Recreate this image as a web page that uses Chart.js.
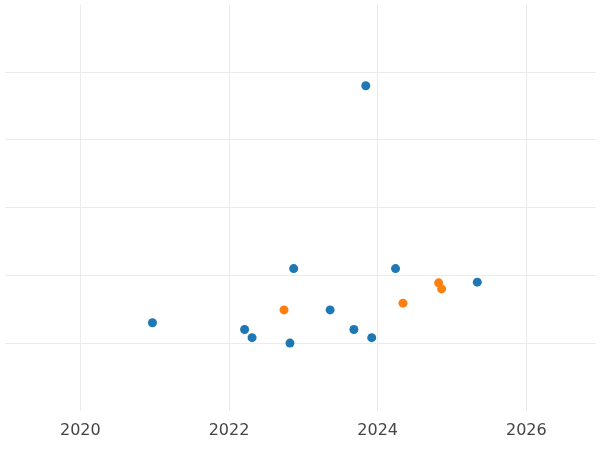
<!DOCTYPE html>
<html><head><meta charset="utf-8">
<script src="https://cdn.jsdelivr.net/npm/chart.js@4"></script>
<style>html,body{margin:0;padding:0;background:#fff}#w{width:600px;height:450px}</style>
</head><body><div id="w"><canvas id="c"></canvas></div>
<script>
const blueX=[2020.97,2022.21,2022.31,2022.82,2022.87,2023.36,2023.68,2023.84,2023.92,2024.24,2025.34];
const blueY=[1.30,1.20,1.08,1.00,2.10,1.49,1.20,4.80,1.08,2.10,1.90];
const orangeX=[2022.74,2024.34,2024.82,2024.86];
const orangeY=[1.49,1.59,1.89,1.80];
const xTicks=[2020,2022,2024,2026];
const yTicks=[1,2,3,4,5];
const pts=(xs,ys)=>xs.map((x,i)=>({x,y:ys[i]}));
new Chart(document.getElementById('c'),{
 type:'scatter',
 data:{datasets:[
  {data:pts(blueX,blueY),backgroundColor:'#1f77b4',borderWidth:0,pointRadius:4.5},
  {data:pts(orangeX,orangeY),backgroundColor:'#ff7f0e',borderWidth:0,pointRadius:4.5}
 ]},
 options:{responsive:true,maintainAspectRatio:false,animation:false,
  layout:{padding:{left:-5,right:-5,top:-4,bottom:0}},
  plugins:{legend:{display:false},tooltip:{enabled:false}},
  scales:{
   x:{type:'linear',min:2018.98,max:2026.93,border:{display:false},
      afterBuildTicks:a=>{a.ticks=xTicks.map(v=>({value:v}));},
      grid:{color:'#ebebeb',drawTicks:false},
      ticks:{color:'#444',font:{family:'DejaVu Sans',size:16},padding:10,callback:v=>String(v)}},
   y:{min:0.0,max:6,border:{display:false},
      afterBuildTicks:a=>{a.ticks=yTicks.map(v=>({value:v}));},
      ticks:{display:false},
      grid:{color:'#ebebeb',drawTicks:false}}
  }}
});
</script></body></html>
